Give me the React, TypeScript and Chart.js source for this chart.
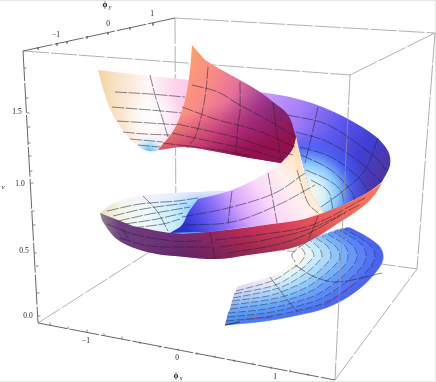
import React, { useEffect, useRef } from "react";
import { Chart, registerables } from "chart.js";
Chart.register(...registerables);

type P = [number, number];
type Grad = { line?: number[]; radial?: number[]; stops: [number, string][] };

// Picture-plane outlines.
const wingBack: P[] = [[98,70],[98,70],[105,95],[113,115],[125,133],[138,146],[148,151],[158,151],[158,151],[175,130],[190,85],[190,80],[190,80],[140,75]];
const wingFront: P[] = [[192,45],[192,45],[190,70],[185,100],[175,128],[158,150],[158,150],[185,147],[218,152],[250,158],[281,163],[281,163],[292,150],[296,137],[296,137],[288,115],[273,102],[260,92],[240,80],[218,68],[205,60]];
const outerWing: P[] = [[260,92],[260,92],[290,97],[320,106],[350,120],[375,136],[388,151],[390,165],[382,182],[382,182],[367,193],[343,205],[325,214],[325,214],[312,195],[303,165],[296,137],[296,137],[285,115]];
const bowl: P[] = [[100,213],[100,213],[112,204],[130,198],[160,194],[200,192],[228,191],[228,191],[228,233],[228,233],[173,233],[133,226],[112,218]];
const innerRibbon: P[] = [[170,233],[170,233],[182,225],[188,213],[198,199],[198,199],[232,190],[268,172],[285,158],[296,137],[296,137],[302,165],[312,195],[325,214],[325,214],[300,220],[265,225],[208,232]];
const rim: P[] = [[100,213],[100,213],[103,222],[118,240],[147,252],[185,257],[218,259],[248,255],[270,252],[295,247],[315,238],[337,224],[357,211],[373,197],[382,183],[382,183],[367,193],[343,205],[317,215],[300,220],[265,225],[208,232],[172,233],[133,226]];

const lowerArcs: P[][] = [
  [[225,325],[265,321],[298,315],[328,307],[355,292],[375,273],[383,258],[378,245],[350,228]],
  [[226,321],[265,317],[296,311],[324,303],[349,288],[367,271],[375,257],[370,245],[345,229]],
  [[227,317],[266,313],[294,307],[320,299],[342,285],[360,269],[366,257],[362,245],[340,230]],
  [[228,313],[266,309],[292,303],[316,295],[336,282],[352,267],[357,257],[353,246],[334,232]],
  [[230,309],[267,304],[290,299],[311,291],[329,279],[344,266],[348,257],[345,246],[328,234]],
  [[231,305],[267,300],[288,295],[307,287],[323,276],[336,264],[340,257],[336,247],[322,236]],
  [[232,301],[268,296],[286,290],[302,283],[317,273],[328,262],[331,256],[328,247],[316,238]],
  [[233,298],[268,291],[284,286],[297,279],[310,270],[319,261],[322,256],[319,248],[310,240]],
  [[234,294],[269,287],[282,282],[293,275],[304,267],[311,260],[314,256],[311,249],[304,243]],
  [[236,291],[269,282],[280,277],[290,270],[299,264],[303,259],[305,255],[303,250],[298,245]],
  [[237,287],[270,277],[279,273],[287,268],[295,260],[297,257],[297,254],[295,250],[292,248]],
];
const lowerLeft = ["#4a88ee","#4f92f0","#5a9cf4","#68a6f6","#7cb0f8","#92baf9","#a6c0fa","#b8c6fb","#c6ccfb","#d4d2fb"];
const lowerMid = ["#4a70f0","#5080f4","#5c90f6","#68a2f8","#78b6f9","#90caf9","#acdcfa","#c8eafa","#e4f4f8","#f8f8f0"];
const lowerRight = ["#4a62ee","#4e70f2","#5880f6","#6694f8","#78aaf9","#90c0fa","#aed6fa","#cae8fa","#e6f4f6","#f8f6e4"];

// Mesh lines
const meshBack: P[][] = [
  [[115,92],[150,94],[185,97]],[[112,107],[150,110],[183,113]],[[117,121],[150,123],[180,125]],
  [[123,132],[145,134],[170,135]],[[130,139],[163,142]],[[138,145],[160,147]],
  [[150,75],[155,95],[162,117],[168,137]],
];
const meshFront: P[][] = [
  [[192,85],[218,92],[238,104],[273,123],[295,137]],
  [[182,107],[218,120],[238,125],[261,132],[295,147]],
  [[177,124],[218,133],[238,138],[268,148],[293,155]],
  [[172,133],[218,143],[251,150],[283,160]],
  [[163,143],[218,150],[250,156]],
  [[208,67],[206,90],[202,113],[195,137],[187,148]],
  [[240,82],[240,112],[238,125],[236,153]],
  [[273,102],[276,127],[281,160]],
];
const meshOuter: P[][] = [
  [[288,115],[328,125],[375,157],[386,170]],
  [[296,132],[328,142],[361,163],[381,182]],
  [[300,147],[331,157],[358,177],[368,191]],
  [[301,155],[331,170],[351,191],[355,200]],
  [[306,170],[328,180],[341,191],[344,205]],
  [[311,180],[328,191],[333,210]],
  [[318,107],[313,130],[305,163]],
  [[378,138],[365,170],[343,191],[321,207]],
];
const meshBowl: P[][] = [
  [[107,211],[140,204],[177,201],[198,198]],
  [[113,216],[143,209],[187,203]],
  [[118,221],[150,214],[190,207]],
  [[125,224],[157,219],[183,213]],
  [[132,228],[163,224],[180,219]],
  [[100,213],[110,223]],
  [[143,196],[157,211],[168,231]],
];
const meshRibbon: P[][] = [
  [[182,217],[228,208],[275,193],[305,173]],
  [[185,225],[232,222],[278,205],[315,185]],
  [[232,191],[228,223]],
  [[268,173],[277,223]],
  [[297,170],[308,203],[318,213]],
];
const meshRim: P[][] = [
  [[107,224],[133,234],[173,241],[202,241]],
  [[120,238],[150,246],[185,247],[210,247]],
  [[215,240],[258,235],[312,225],[365,198]],
  [[220,247],[265,240],[312,228],[361,204]],
  [[228,253],[275,245],[305,235],[345,213]],
  [[122,229],[130,241]],
  [[210,233],[215,258]],
  [[318,216],[308,241]],
];
const meshLower: P[][] = [
  [[270,277],[285,297],[298,312]],
  [[295,265],[315,277],[338,282],[382,273]],
  [[308,241],[292,254],[295,262]],
];
const streaks: P[][] = [
  [[325,305],[355,283]],[[242,320],[272,317]],[[372,263],[372,268]],
];

// Box edges
const backEdges: P[][] = [
  [[175,18],[176,235]],
  [[38,323],[176,235]],
  [[176,235],[417,269]],
  [[23,51],[350,75]],
  [[175,18],[435,33]],
];
const frontEdges: P[][] = [
  [[350,75],[435,33]],
  [[350,75],[335,380]],
  [[435,33],[417,269]],
  [[335,380],[417,269]],
];
const axisEdges: P[][] = [
  [[23,51],[175,18]],
  [[23,51],[38,323]],
  [[38,323],[335,380]],
];
const vTicks: P[] = [[24,68],[26,98],[27,113],[28,127],[28,143],[29,156],[30,171],[31,183],[32,211],[33,225],[34,253],[36,266],[37,293],[38,316]];
const xTicks: P[] = [[50,325],[68,329],[87,332],[104,336],[122,339],[140,344],[160,348],[178,351],[197,355],[215,358],[234,362],[253,365],[271,369],[290,372],[308,376]];
const yTicks: P[] = [[38,47],[57,43],[67,41],[87,36],[108,32],[130,27],[153,23]];

const NUM = "7.5px 'Liberation Serif'";
const labels: [string, number, number, string][] = [
  ["\u22121", 56, 35, NUM],
  ["0", 108, 24, NUM],
  ["1", 152, 14, NUM],
  ["\u03d5", 105, 5, "bold 8px 'Liberation Serif'"],
  ["y", 110, 7, "italic 6px 'Liberation Serif'"],
  ["1.5", 17, 112, NUM],
  ["1.0", 20, 184, NUM],
  ["0.5", 24, 251, NUM],
  ["0.0", 28, 316, NUM],
  ["v", 3, 187, "italic 7px 'Liberation Serif'"],
  ["\u22121", 86, 341, NUM],
  ["0", 177, 358, NUM],
  ["1", 275, 377, NUM],
  ["\u03d5", 176, 376, "bold 8px 'Liberation Serif'"],
  ["x", 181, 378, "italic 6px 'Liberation Serif'"],
];

const toXY = (pts: P[]) => pts.map(([x, y]) => ({ x, y }));

function paint(chart: any, g: Grad) {
  const sx = chart.scales?.x, sy = chart.scales?.y;
  if (!sx || !sy || !Number.isFinite(sx.getPixelForValue(0)) || !Number.isFinite(sy.getPixelForValue(0))) return g.stops[0][1];
  let gr: CanvasGradient;
  if (g.line) {
    const [a, b, c, d] = g.line;
    gr = chart.ctx.createLinearGradient(sx.getPixelForValue(a), sy.getPixelForValue(b), sx.getPixelForValue(c), sy.getPixelForValue(d));
  } else {
    const [a, b, r0, r1] = g.radial!;
    const px = sx.getPixelForValue(a), py = sy.getPixelForValue(b);
    gr = chart.ctx.createRadialGradient(px, py, r0, px, py, r1);
  }
  g.stops.forEach(([o, c]) => gr.addColorStop(o, c));
  return gr;
}

function shape(pts: P[], g: Grad, seam = false) {
  const fillStyle = (c: any) => paint(c.chart, g);
  return {
    data: toXY(pts), showLine: true, fill: "shape", indexAxis: "y", pointRadius: 0,
    borderWidth: seam ? 0.8 : 0, borderColor: seam ? fillStyle : "transparent",
    backgroundColor: fillStyle, tension: 0.35,
  };
}
function stroke(pts: P[], color: string, width: number, tension = 0.35, dash: number[] = []) {
  return { data: toXY(pts), showLine: true, fill: false, pointRadius: 0, borderColor: color, borderWidth: width, tension, borderDash: dash };
}

const MESH = "rgba(35,30,50,0.68)";

function buildDatasets() {
  const ds: any[] = [];
  const lines = (ls: P[][], c = MESH, w = 0.8, dash: number[] = [12, 1.5]) => ls.forEach((l) => ds.push(stroke(l, c, w, 0.35, dash)));

  ds.push(stroke([[0,0.5],[436,0.5]], "#e6e6e6", 1, 0));
  ds.push(stroke([[0,381.5],[436,381.5]], "#e6e6e6", 1, 0));
  ds.push(stroke([[435.5,0],[435.5,382]], "#e6e6e6", 1, 0));
  backEdges.forEach((l) => ds.push(stroke(l, "#a9a9a9", 0.9, 0, [26, 2])));

  // lower turn of the surface
  for (let i = 0; i < lowerArcs.length - 1; i++) {
    ds.push(shape([...lowerArcs[i], ...[...lowerArcs[i + 1]].reverse()], {
      line: [225, 300, 385, 260],
      stops: [[0, lowerLeft[i]], [0.4, lowerMid[i]], [1, lowerRight[i]]],
    }, true));
  }
  lowerArcs.slice(1, -1).forEach((a) => ds.push(stroke(a, MESH, 0.7, 0.35, [8, 2])));
  lines(meshLower);
  lines(streaks, "rgba(160,40,90,0.8)", 0.8, []);
  lines([[[225,325],[240,322]]], "rgba(25,45,110,0.9)", 1.2, []);

  // far wing
  ds.push(shape(wingBack, { line: [98, 100, 190, 100], stops: [[0, "#f2d2a4"], [0.22, "#f9e3c8"], [0.55, "#fff6f6"], [0.85, "#fcd4ec"], [1, "#fbc8e8"]] }));
  ds.push(shape(wingBack, { radial: [152, 118, 4, 30], stops: [[0, "rgba(255,255,255,0.95)"], [1, "rgba(255,255,255,0)"]] }));
  ds.push(shape(wingBack, { radial: [149, 152, 2, 18], stops: [[0, "rgba(105,195,250,1)"], [0.5, "rgba(190,230,245,0.75)"], [1, "rgba(235,245,235,0)"]] }));
  lines(meshBack);

  // outer wing and inside of the upper turn
  ds.push(shape(outerWing, { line: [265, 95, 385, 170], stops: [[0, "#c89cfb"], [0.28, "#a47cf8"], [0.55, "#5e58ee"], [0.78, "#4040d6"], [1, "#4c36a6"]] }));
  ds.push(shape(outerWing, { radial: [306, 195, 6, 64], stops: [[0, "#fbf8e2"], [0.22, "#d2f0fa"], [0.45, "#84c4fb"], [0.72, "rgba(70,100,245,0.7)"], [1, "rgba(70,90,240,0)"]] }));
  lines(meshOuter);

  ds.push(shape(bowl, { line: [100, 210, 200, 210], stops: [[0, "#e6e2bc"], [0.2, "#f3f5e6"], [0.45, "#f0fafc"], [0.75, "#c8ecfc"], [1, "#74c6f8"]] }));
  ds.push(shape(bowl, { line: [150, 190, 150, 206], stops: [[0, "rgba(250,236,255,0.95)"], [1, "rgba(250,236,255,0)"]] }));
  lines(meshBowl);

  ds.push(shape(innerRibbon, { line: [182, 226, 300, 150], stops: [[0, "#2a30c8"], [0.12, "#4a4aea"], [0.28, "#9074f6"], [0.42, "#d6a6fb"], [0.6, "#fbd6fa"], [0.8, "#fff0ee"], [0.92, "#ffe8cc"], [1, "#ffd8a8"]] }));
  lines(meshRibbon);

  // outside of the rim
  ds.push(shape(rim, { line: [100, 235, 382, 205], stops: [[0, "#9a8a90"], [0.07, "#6c4080"], [0.28, "#6f2a70"], [0.4, "#8e2860"], [0.5, "#b82a55"], [0.65, "#d84058"], [0.8, "#ec5c5c"], [1, "#fa7a5c"]] }));
  ds.push(shape(rim, { line: [215, 236, 218, 262], stops: [[0, "rgba(60,20,70,0)"], [1, "rgba(60,20,70,0.35)"]] }));
  lines(meshRim);

  // near wing
  ds.push(shape(wingFront, { line: [182, 70, 296, 130], stops: [[0, "#fa9f6e"], [0.22, "#f98c86"], [0.42, "#e8729a"], [0.66, "#a0409a"], [0.84, "#5c2e8c"], [1, "#3f3478"]] }));
  ds.push(shape(wingFront, { line: [212, 105, 228, 157], stops: [[0, "rgba(170,20,80,0)"], [0.7, "rgba(170,20,80,0.65)"], [1, "rgba(150,15,75,0.95)"]] }));
  lines(meshFront);

  frontEdges.forEach((l) => ds.push(stroke(l, "rgba(150,150,150,0.85)", 0.9, 0, [30, 2])));
  axisEdges.forEach((l) => ds.push(stroke(l, "#666666", 1, 0, [30, 2])));
  vTicks.forEach(([x, y]) => ds.push(stroke([[x, y], [x + 2.5, y]], "#666666", 0.8, 0)));
  xTicks.forEach(([x, y]) => ds.push(stroke([[x, y], [x, y - 2.5]], "#666666", 0.8, 0)));
  yTicks.forEach(([x, y]) => ds.push(stroke([[x, y], [x, y + 2.5]], "#666666", 0.8, 0)));

  // Chart.js paints the first dataset last, so hand them over back to front.
  return ds.reverse();
}

const textPlugin = {
  id: "boxLabels",
  afterDatasetsDraw(chart: any) {
    const { ctx, scales } = chart;
    ctx.save();
    ctx.fillStyle = "#222222";
    ctx.textAlign = "center";
    ctx.textBaseline = "middle";
    labels.forEach(([t, x, y, font]) => {
      ctx.font = font;
      ctx.fillText(t, scales.x.getPixelForValue(x), scales.y.getPixelForValue(y));
    });
    ctx.restore();
  },
};

export default function App() {
  const ref = useRef<HTMLCanvasElement>(null);
  useEffect(() => {
    document.body.style.margin = "0";
    const chart = new Chart(ref.current!, {
      type: "scatter",
      data: { datasets: buildDatasets() },
      plugins: [textPlugin],
      options: {
        animation: false,
        responsive: false,
        layout: { padding: 0 },
        plugins: { legend: { display: false }, tooltip: { enabled: false } },
        scales: {
          x: { type: "linear", min: 0, max: 436, display: false },
          y: { type: "linear", min: 0, max: 382, reverse: true, display: false },
        },
      },
    } as any);
    return () => chart.destroy();
  }, []);
  return <canvas ref={ref} width={436} height={382} style={{ display: "block", width: 436, height: 382 }} />;
}
